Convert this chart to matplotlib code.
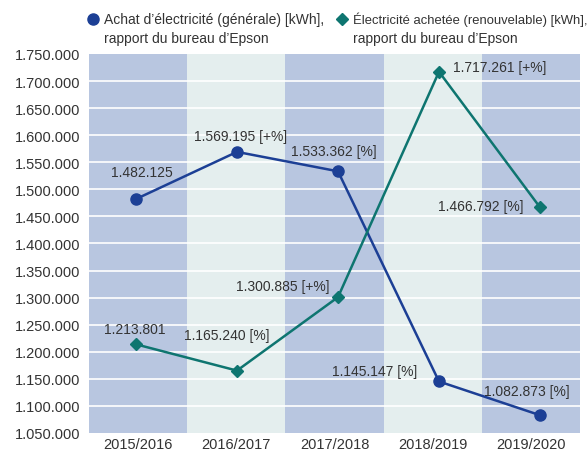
import matplotlib.pyplot as plt
from matplotlib.lines import Line2D

plt.rcParams['font.family'] = ['Liberation Sans', 'DejaVu Sans']

years = ['2015/2016', '2016/2017', '2017/2018', '2018/2019', '2019/2020']
general = [1482125, 1569195, 1533362, 1145147, 1082873]
renew = [1213801, 1165240, 1300885, 1717261, 1466792]
general_labels = ['1.482.125', '1.569.195 [+%]', '1.533.362 [%]', '1.145.147 [%]', '1.082.873 [%]']
renew_labels = ['1.213.801', '1.165.240 [%]', '1.300.885 [+%]', '1.717.261 [+%]', '1.466.792 [%]']
yticks = list(range(1050000, 1750001, 50000))

blue = '#1c3f95'
teal = '#0e7570'
band_dark = '#b8c6e0'
band_light = '#e4eeee'
txt = '#333333'

fig = plt.figure(figsize=(5.87, 4.52), dpi=100)
rect = [89/587, 1-434/452, (580-89)/587, (434-55)/452]
ax = fig.add_axes(rect)

x = list(range(len(years)))
for i in x:
    ax.axvspan(i-0.5, i+0.5, color=band_dark if i % 2 == 0 else band_light, lw=0, zorder=0)
for y in yticks[1:-1]:
    ax.axhline(y, color='white', lw=1.2, zorder=1)

ax.set_xlim(-0.5, 4.5)
ax.set_ylim(1050000, 1750000)
ax.set_yticks(yticks)
ax.set_yticklabels([f'{v:,}'.replace(',', '.') for v in yticks])
ax.set_xticks(x)
ax.set_xticklabels(years)
ax.tick_params(axis='y', length=0, labelsize=10.5, labelcolor=txt, pad=6)
ax.tick_params(axis='x', length=0, labelsize=10.5, labelcolor=txt, pad=3)
for s in ax.spines.values():
    s.set_visible(False)

# the points in the original sit slightly off the band centres, so draw the
# lines on an overlay axes with its own x scale
lx = fig.add_axes(rect, sharey=ax)
lx.set_xlim(-0.465, 4.396)
lx.patch.set_alpha(0)
lx.axis('off')

lx.plot(x, general, color=blue, lw=1.8, marker='o', ms=8, zorder=3)
lx.plot(x, renew, color=teal, lw=1.8, marker='D', ms=6.5, zorder=3)

# label offsets in pixels (dx, dy)
g_off = [(6, 27), (4, 16), (-4, 20), (-64, 10), (-13, 24)]
r_off = [(-1, 15), (-10, 36), (-55, 11), (61, 5), (-59, 1)]
for i in x:
    lx.annotate(general_labels[i], (i, general[i]), xytext=g_off[i], textcoords='offset pixels',
                ha='center', va='center', fontsize=10, color=txt, zorder=4)
    lx.annotate(renew_labels[i], (i, renew[i]), xytext=r_off[i], textcoords='offset pixels',
                ha='center', va='center', fontsize=10, color=txt, zorder=4)

# legend
fig.add_artist(Line2D([93/587], [1-20/452], marker='o', ms=8, color=blue, transform=fig.transFigure))
fig.text(104/587, 1-20/452, "Achat d\u2019électricité (générale) [kWh],",
         va='center', ha='left', fontsize=10, color=txt)
fig.text(104/587, 1-39/452, "rapport du bureau d\u2019Epson",
         va='center', ha='left', fontsize=10, color=txt)
fig.add_artist(Line2D([342/587], [1-20/452], marker='D', ms=6.5, color=teal, transform=fig.transFigure))
fig.text(353/587, 1-20/452, "Électricité achetée (renouvelable) [kWh],",
         va='center', ha='left', fontsize=9.4, color=txt)
fig.text(353/587, 1-39/452, "rapport du bureau d\u2019Epson",
         va='center', ha='left', fontsize=10, color=txt)

fig.savefig('out.png', dpi=100)
